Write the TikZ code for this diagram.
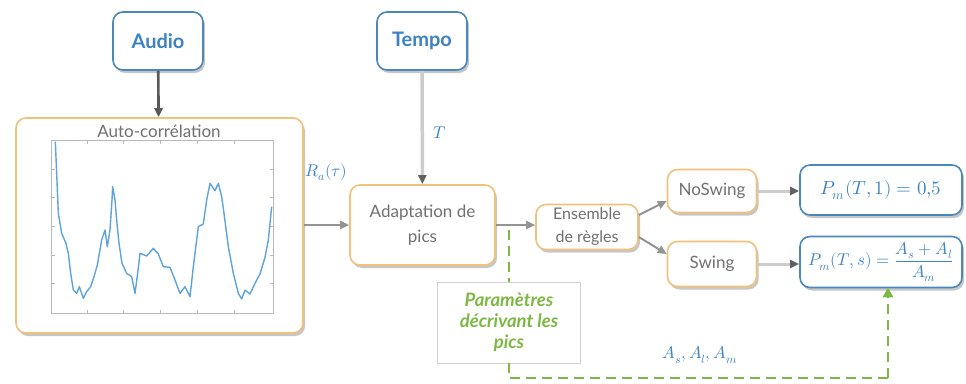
\documentclass[tikz,border=0pt]{standalone}
\usepackage{fontspec}
\usepackage{unicode-math}
\setmainfont{Lato}
\setmathfont{Latin Modern Math}
\usetikzlibrary{arrows.meta,shadows}
\definecolor{bblue}{HTML}{4A87BA}
\definecolor{tblue}{HTML}{3C82C4}
\definecolor{borange}{HTML}{F0C27B}
\definecolor{ggreen}{HTML}{7DB843}
\definecolor{tgray}{HTML}{707070}
\definecolor{cblue}{HTML}{5EA3DA}
\begin{document}
\begin{tikzpicture}[x=1pt,y=-1pt,
  box/.style={draw, fill=white, rounded corners=10pt, line width=1.6pt,
    drop shadow={opacity=0.45,shadow xshift=2pt,shadow yshift=-3pt},
    inner sep=0pt, align=center},
  inbox/.style={box, draw=bblue, text=tblue, minimum width=90pt, minimum height=58pt,
    font=\fontsize{20}{24}\selectfont\bfseries},
  proc/.style={box, draw=borange, text=tgray, font=\fontsize{17}{25}\selectfont},
  outbox/.style={box, draw=bblue, text=tblue, minimum width=162pt},
  arr/.style={-{Triangle[length=9pt,width=8pt]}, line width=2pt, draw=gray!85},
  lightarr/.style={-{Triangle[length=9pt,width=8pt,color=gray!75!black]}, line width=3.5pt, draw=gray!40},
  gdash/.style={draw=ggreen, line width=2.6pt, dash pattern=on 10pt off 6pt},
  lbl/.style={text=tblue, font=\fontsize{17}{20}\selectfont}
]
\useasboundingbox (0,0) rectangle (966,383);

% nodes
\node[inbox] (audio) at (158,41) {Audio};
\node[inbox] (tempo) at (422,41) {Tempo};
\node[proc, minimum width=287pt, minimum height=215pt] (auto) at (159.5,225.5) {};
\node[text=tgray, font=\fontsize{17}{20}\selectfont] (autot) at (159,131) {Auto-corrélation};
\node[proc, minimum width=145pt, minimum height=80pt] (adapt) at (422.5,225) {Adaptation de\\pics};
\node[proc, minimum width=102pt, minimum height=45pt, font=\fontsize{16}{23}\selectfont] (ens) at (587,227) {Ensemble\\de règles};
\node[proc, minimum width=89pt, minimum height=43pt] (ns) at (712,191) {NoSwing};
\node[proc, minimum width=89pt, minimum height=45pt] (sw) at (712,264) {Swing};
\node[outbox, minimum height=50pt, font=\fontsize{19}{22}\selectfont] (p1) at (881,190) {$P_m(T,1) = 0{,}5$};
\node[outbox, minimum height=51pt, font=\fontsize{17}{20}\selectfont] (p2) at (881,262) {$P_m(T,s) = \displaystyle\frac{A_s + A_l}{A_m}$};
\node[draw=gray!35, line width=0.8pt, fill=white, minimum width=143pt, minimum height=81pt,
  inner sep=0pt, align=center, text=ggreen, font=\fontsize{18.5}{21}\selectfont\bfseries\itshape] (param) at (509,322.5)
  {Paramètres\\décrivant les\\pics};

% plot
\begin{scope}[scale=1/3]
  \draw[gray!55, line width=1.2pt] (155,422) rectangle (820,940);
  \foreach \yy in {507,593,680,765,850} {
    \draw[gray!55, line width=1pt] (155,\yy) -- +(10,0);
    \draw[gray!55, line width=1pt] (820,\yy) -- +(-10,0);}
  \foreach \xx in {262,372,482,592,705} {
    \draw[gray!55, line width=1pt] (\xx,940) -- +(0,-10);
    \draw[gray!55, line width=1pt] (\xx,422) -- +(0,10);}
  \draw[cblue, line width=1.4pt, line join=round]
    (166,425) -- (170,520) -- (175,640) -- (185,700) -- (198,730) -- (205,760) -- (212,820)
    -- (220,870) -- (230,880) -- (238,860) -- (250,895) -- (260,875) -- (272,860) -- (282,830)
    -- (292,795) -- (305,720) -- (315,690) -- (322,740) -- (330,690) -- (336,600) -- (338,560)
    -- (345,600) -- (350,660) -- (357,730) -- (366,790) -- (380,820) -- (395,830) -- (405,880)
    -- (413,820) -- (420,760) -- (440,768) -- (460,745) -- (475,762) -- (490,800) -- (510,802)
    -- (525,840) -- (540,880) -- (555,860) -- (570,890) -- (580,800) -- (595,680) -- (610,672)
    -- (620,600) -- (630,550) -- (645,572) -- (655,550) -- (665,590) -- (672,640) -- (685,740)
    -- (700,820) -- (715,880) -- (725,897) -- (735,870) -- (750,882) -- (765,850) -- (780,822)
    -- (795,772) -- (805,720) -- (815,620);
\end{scope}

% connectors
\draw[arr, draw=gray!70!black, line width=2.6pt] (audio) -- (auto);
\draw[lightarr] (tempo) -- node[lbl, right=6pt, pos=0.55] {$T$} (adapt);
\draw[arr] (auto.east |- adapt) -- node[lbl, above=40pt] {$R_a(\tau)$} (adapt);
\draw[arr] (adapt.east) -- (adapt.east -| ens.west);
\draw[arr] ([yshift=12pt]ens.east) -- ([yshift=-10pt]ns.west);
\draw[arr] ([yshift=-10pt]ens.east) -- ([yshift=10pt]sw.west);
\draw[lightarr, line width=3pt] (ns) -- (ns -| p1.west);
\draw[lightarr, line width=3pt] (sw) -- (sw -| p2.west);

% green feedback
\coordinate (g0) at (509,230);
\coordinate (g1) at (888,378);
\draw[gdash] (g0) -- (param.north);
\draw[gdash] (param.south) |- (g1);
\draw[gdash, -{Triangle[length=10pt,width=10pt,color=ggreen]}, shorten >=-1pt] (g1) -- (g1 |- p2.south);
\node[lbl] (alab) at (700,355) {$A_s, A_l, A_m$};
\end{tikzpicture}
\end{document}
